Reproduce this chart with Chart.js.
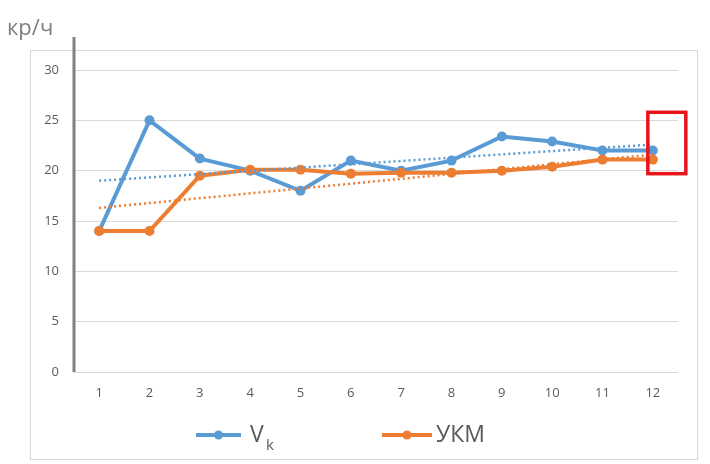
<!DOCTYPE html>
<html>
<head>
<meta charset="utf-8">
<script src="https://cdn.jsdelivr.net/npm/chart.js@4/dist/chart.umd.min.js"></script>
<style>
  html, body { margin: 0; padding: 0; background: #fff; }
  #wrap { width: 710px; height: 464px; position: relative; }
</style>
</head>
<body>
<div id="wrap"><canvas id="chart" width="710" height="464"></canvas></div>
<script>
const categories = ['1', '2', '3', '4', '5', '6', '7', '8', '9', '10', '11', '12'];
const vkValues = [14, 25, 21.2, 20, 18, 21, 20, 21, 23.4, 22.9, 22, 22];
const ukmValues = [14, 14, 19.5, 20.1, 20.1, 19.7, 19.8, 19.8, 20, 20.4, 21.1, 21.1];
// trend line ends (first and last category only)
const vkTrend = [19.0, null, null, null, null, null, null, null, null, null, null, 22.6];
const ukmTrend = [16.3, null, null, null, null, null, null, null, null, null, null, 21.6];
const yTicks = [0, 5, 10, 15, 20, 25, 30];

const blue = '#5b9bd5';
const orange = '#ed7d31';
const textGray = '#595959';
const font = "'Open Sans', 'Liberation Sans', sans-serif";

const framePlugin = {
  id: 'frame',
  beforeDraw(chart) {
    const ctx = chart.ctx;
    ctx.save();
    ctx.strokeStyle = '#d9d9d9';
    ctx.lineWidth = 1;
    ctx.strokeRect(30.5, 50.5, 667, 409);
    ctx.restore();
  },
  afterDatasetsDraw(chart) {
    const ctx = chart.ctx;
    const area = chart.chartArea;
    const x = chart.scales.x;
    const y = chart.scales.y;
    ctx.save();

    // thick y axis line
    ctx.strokeStyle = '#808080';
    ctx.lineWidth = 3;
    ctx.beginPath();
    ctx.moveTo(area.left, 37);
    ctx.lineTo(area.left, area.bottom);
    ctx.stroke();

    // axis unit
    ctx.fillStyle = '#7f7f7f';
    ctx.font = '22px ' + font;
    ctx.textBaseline = 'alphabetic';
    ctx.fillText('кр/ч', 7, 35);

    // red highlight box
    const bx = x.getPixelForValue(11) - 5;
    const byTop = y.getPixelForValue(25.8);
    const byBot = y.getPixelForValue(19.7);
    ctx.strokeStyle = '#e8141c';
    ctx.lineWidth = 3.5;
    ctx.strokeRect(bx, byTop, 38, byBot - byTop);

    // legend
    const ly = 435;
    const drawKey = (x0, x1, color) => {
      ctx.strokeStyle = color;
      ctx.lineWidth = 4;
      ctx.beginPath();
      ctx.moveTo(x0, ly);
      ctx.lineTo(x1, ly);
      ctx.stroke();
      ctx.fillStyle = color;
      ctx.beginPath();
      ctx.arc((x0 + x1) / 2, ly, 4.5, 0, Math.PI * 2);
      ctx.fill();
    };
    drawKey(196, 241, blue);
    drawKey(382, 432, orange);
    ctx.fillStyle = textGray;
    ctx.textBaseline = 'middle';
    ctx.font = '23px ' + font;
    ctx.fillText('V', 250, ly);
    ctx.font = '15px ' + font;
    ctx.fillText('k', 266, ly + 11);
    ctx.font = '23px ' + font;
    ctx.fillText('УКМ', 436, ly);

    ctx.restore();
  }
};

new Chart(document.getElementById('chart'), {
  type: 'line',
  data: {
    labels: categories,
    datasets: [
      {
        label: 'Vk',
        data: vkValues,
        borderColor: blue,
        backgroundColor: blue,
        borderWidth: 4,
        pointRadius: 5,
        pointBorderWidth: 0,
        tension: 0,
        order: 3
      },
      {
        label: 'УКМ',
        data: ukmValues,
        borderColor: orange,
        backgroundColor: orange,
        borderWidth: 4,
        pointRadius: 5,
        pointBorderWidth: 0,
        tension: 0,
        order: 2
      },
      {
        label: 'trend Vk',
        data: vkTrend,
        borderColor: blue,
        borderWidth: 2.5,
        borderDash: [2, 3],
        pointRadius: 0,
        spanGaps: true,
        order: 1
      },
      {
        label: 'trend УКМ',
        data: ukmTrend,
        borderColor: orange,
        borderWidth: 2.5,
        borderDash: [2, 3],
        pointRadius: 0,
        spanGaps: true,
        order: 0
      }
    ]
  },
  options: {
    responsive: false,
    animation: false,
    devicePixelRatio: 1,
    layout: { padding: { left: 30, top: 70, right: 32, bottom: 0 } },
    plugins: {
      legend: { display: false },
      tooltip: { enabled: false }
    },
    scales: {
      x: {
        offset: true,
        grid: { display: false, drawTicks: false },
        border: { display: false },
        ticks: { color: textGray, font: { family: font, size: 13 }, padding: 13, maxRotation: 0 },
        afterFit: (scale) => { scale.height = 92; }
      },
      y: {
        min: 0,
        max: 30,
        afterBuildTicks: (scale) => { scale.ticks = yTicks.map((v) => ({ value: v })); },
        grid: { color: '#d9d9d9', lineWidth: 1, drawTicks: false },
        border: { display: false },
        ticks: { color: textGray, font: { family: font, size: 13 }, padding: 15 },
        afterFit: (scale) => { scale.width = 44; }
      }
    }
  },
  plugins: [framePlugin]
});
</script>
</body>
</html>
